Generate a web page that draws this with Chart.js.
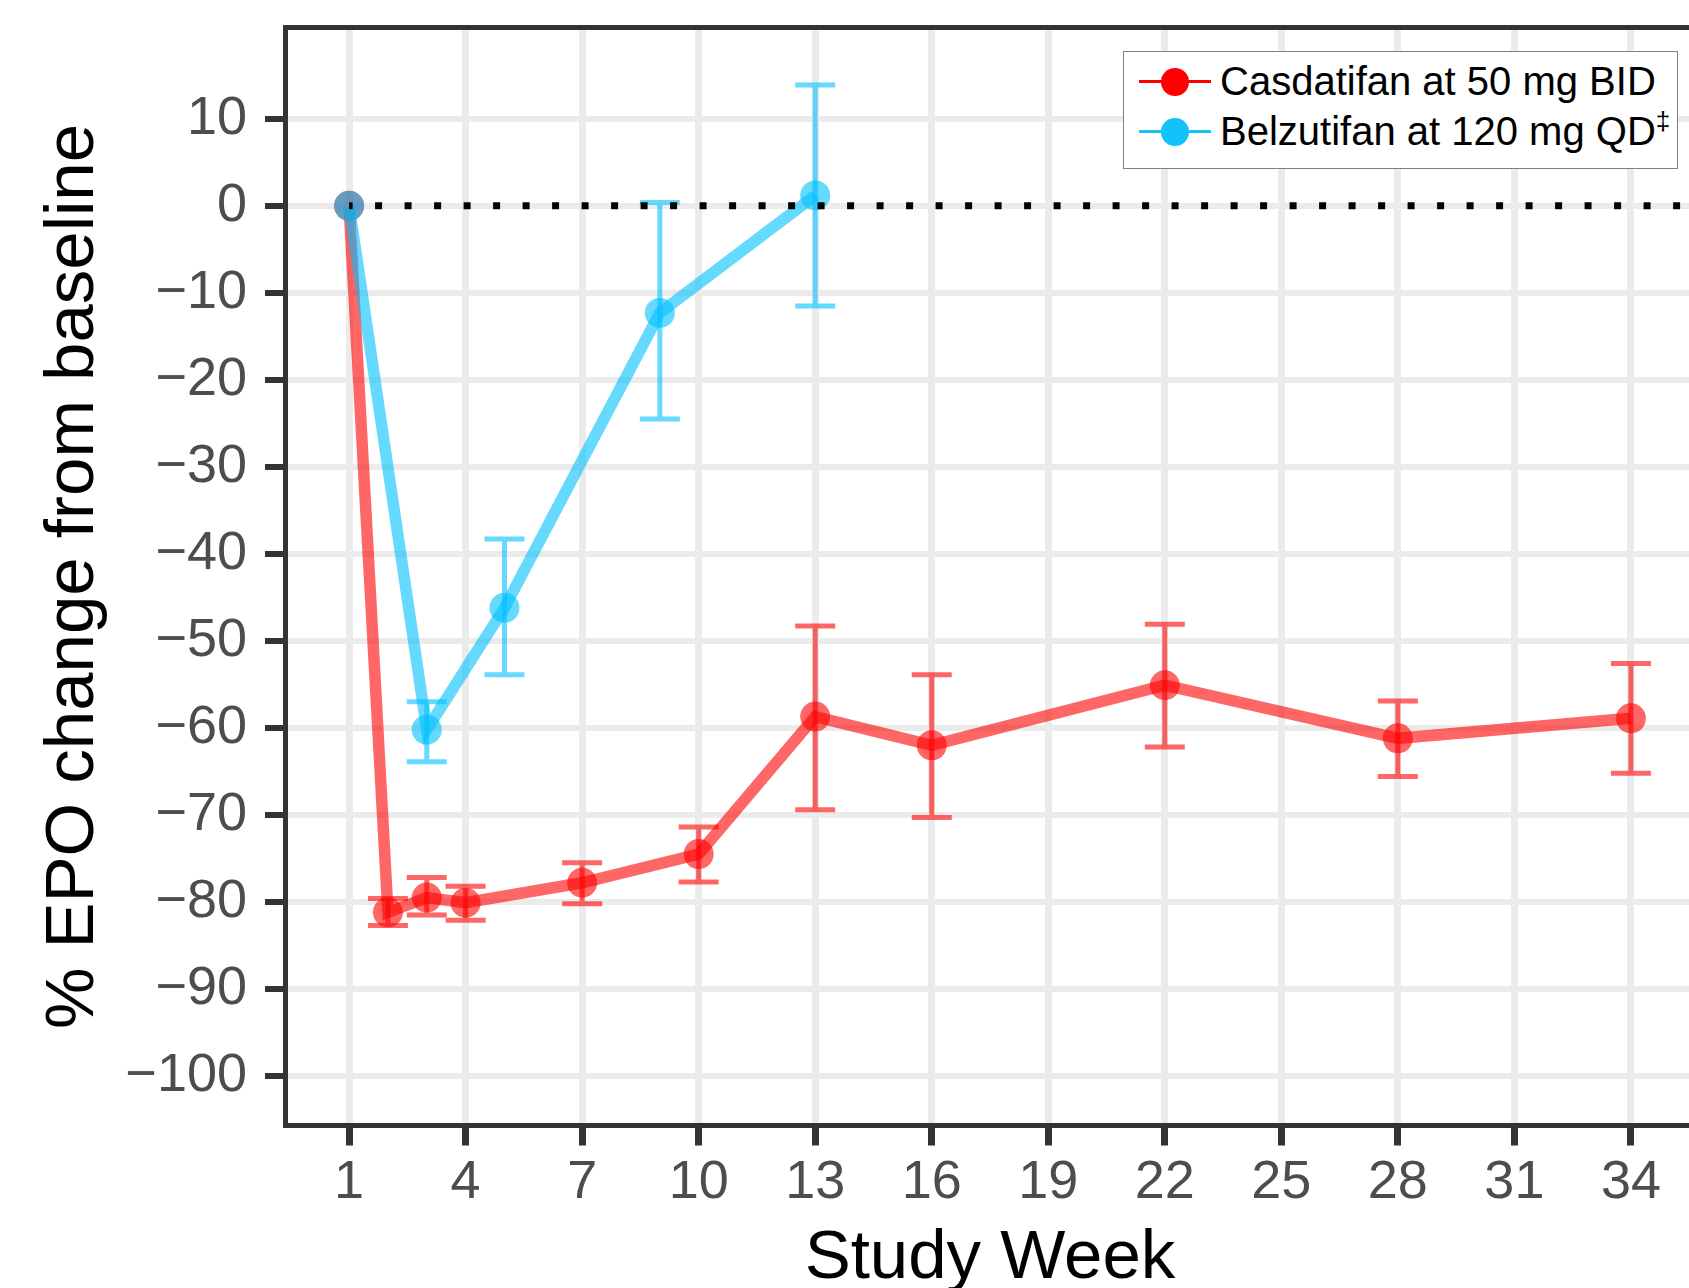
<!DOCTYPE html>
<html>
<head>
<meta charset="utf-8">
<script src="https://cdn.jsdelivr.net/npm/chart.js@4.4.0/dist/chart.umd.min.js"></script>
<style>
html, body { margin: 0; padding: 0; background: #fff; overflow: hidden; }
#wrap { position: relative; width: 1710px; height: 1320px; }
#epoChart { position: absolute; left: 0; top: 0; }
#legend {
    position: absolute; left: 1123px; top: 51px; width: 553px; height: 116px;
    border: 1.5px solid #808080; background: #fff;
    font-family: 'Liberation Sans', Arial, sans-serif; font-size: 40px; color: #000;
}
.row { position: absolute; left: 0; height: 50px; display: flex; align-items: center; white-space: nowrap; }
.key { position: relative; width: 72px; height: 3px; margin-left: 15px; margin-right: 9px; }
.key span { position: absolute; left: 22px; top: -12.5px; width: 28px; height: 28px; border-radius: 50%; }
.dd { font-size: 26px; position: relative; top: -10px; }
</style>
</head>
<body>
<div id="wrap">
    <canvas id="epoChart" width="1710" height="1320"></canvas>
    <div id="legend">
        <div class="row" style="top:4.5px"><div class="key" style="background:#ff0000"><span style="background:#ff0000"></span></div>Casdatifan at 50 mg BID</div>
        <div class="row" style="top:54.5px"><div class="key" style="background:#14c2fa"><span style="background:#14c2fa"></span></div>Belzutifan at 120 mg QD<span class="dd">‡</span></div>
    </div>
</div>
<script>
// casdatifan 50 mg BID
var casWeeks = [1, 2, 3, 4, 7, 10, 13, 16, 22, 28, 34];
var casMean  = [0, -81.2, -79.5, -80.1, -77.8, -74.5, -58.7, -62.0, -55.1, -61.2, -58.9];
var casLow   = [null, -82.7, -81.5, -82.1, -80.2, -77.7, -69.4, -70.3, -62.2, -65.6, -65.2];
var casHigh  = [null, -79.6, -77.2, -78.2, -75.5, -71.4, -48.3, -53.9, -48.1, -56.9, -52.6];

// belzutifan 120 mg QD
var belWeeks = [1, 3, 5, 9, 13];
var belMean  = [0, -60.2, -46.2, -12.3, 1.2];
var belLow   = [null, -63.9, -53.9, -24.5, -11.5];
var belHigh  = [null, -57.0, -38.3, 0.4, 13.9];

var xTicks = [1, 4, 7, 10, 13, 16, 19, 22, 25, 28, 31, 34];
var yTicks = [-100, -90, -80, -70, -60, -50, -40, -30, -20, -10, 0, 10];
var baseline = [{x: 1, y: 0}, {x: 36, y: 0}];

var redFade = 'rgba(255, 0, 0, 0.6)';
var blueFade = 'rgba(0, 191, 255, 0.6)';
var fontFam = "'Liberation Sans', Arial, sans-serif";

var toPoints = function(weeks, vals) {
    return weeks.map(function(w, i) { return {x: w, y: vals[i]}; });
};

var errorBars = {
    id: 'errorBars',
    beforeDatasetsDraw: function(chart) {
        var ctx = chart.ctx;
        var xs = chart.scales.x, ys = chart.scales.y;
        var sets = [[casWeeks, casLow, casHigh, redFade], [belWeeks, belLow, belHigh, blueFade]];
        ctx.save();
        ctx.lineWidth = 5;
        ctx.lineCap = 'butt';
        sets.forEach(function(s) {
            ctx.strokeStyle = s[3];
            s[0].forEach(function(w, i) {
                if (s[1][i] === null) { return; }
                var px = xs.getPixelForValue(w);
                var lo = ys.getPixelForValue(s[1][i]);
                var hi = ys.getPixelForValue(s[2][i]);
                ctx.beginPath();
                ctx.moveTo(px - 20, hi); ctx.lineTo(px + 20, hi);
                ctx.moveTo(px, hi); ctx.lineTo(px, lo);
                ctx.moveTo(px - 20, lo); ctx.lineTo(px + 20, lo);
                ctx.stroke();
            });
        });
        ctx.restore();
    }
};

var panelBorder = {
    id: 'panelBorder',
    afterDraw: function(chart) {
        var a = chart.chartArea;
        var ctx = chart.ctx;
        ctx.save();
        ctx.strokeStyle = '#333333';
        ctx.lineWidth = 5;
        ctx.strokeRect(a.left + 0.5, a.top, a.right - a.left, a.bottom - a.top);
        ctx.restore();
    }
};

var ctxE = document.getElementById('epoChart').getContext('2d');
var epoChart = new Chart(ctxE, {
    type: 'line',
    data: {
        datasets: [
            {
                data: baseline,
                borderColor: '#000000',
                borderWidth: 7,
                borderDash: [7, 22.5],
                borderDashOffset: 3.5,
                borderCapStyle: 'butt',
                pointRadius: 0,
                fill: false
            },
            {
                data: toPoints(belWeeks, belMean),
                borderColor: blueFade,
                backgroundColor: blueFade,
                borderWidth: 11.5,
                pointRadius: 15,
                pointBorderWidth: 0,
                pointBackgroundColor: blueFade,
                tension: 0,
                fill: false
            },
            {
                data: toPoints(casWeeks, casMean),
                borderColor: redFade,
                backgroundColor: redFade,
                borderWidth: 11.5,
                pointRadius: 15,
                pointBorderWidth: 0,
                pointBackgroundColor: redFade,
                tension: 0,
                fill: false
            }
        ]
    },
    options: {
        responsive: false,
        devicePixelRatio: 1,
        animation: false,
        events: [],
        layout: { padding: { top: 27.5, right: 5, bottom: 0, left: 0 } },
        plugins: {
            legend: { display: false },
            tooltip: { enabled: false }
        },
        scales: {
            x: {
                type: 'linear',
                min: -0.65,
                max: 35.65,
                bounds: 'data',
                afterBuildTicks: function(s) { s.ticks = xTicks.map(function(v) { return {value: v}; }); },
                afterFit: function(s) { s.height = 194.5; s.paddingLeft = 0; s.paddingRight = 0; },
                border: { display: false },
                grid: { color: '#EBEBEB', lineWidth: 7, tickColor: '#333333', tickWidth: 7, tickLength: 20 },
                ticks: { color: '#4D4D4D', padding: 5, maxRotation: 0, autoSkip: false, font: { family: fontFam, size: 54 } },
                title: { display: true, text: 'Study Week', color: '#000000', padding: { top: 0, bottom: 20 }, font: { family: fontFam, size: 69 } }
            },
            y: {
                min: -105.7,
                max: 20.5,
                bounds: 'data',
                afterBuildTicks: function(s) { s.ticks = yTicks.map(function(v) { return {value: v}; }); },
                afterFit: function(s) { s.width = 285; s.paddingTop = 0; s.paddingBottom = 0; },
                border: { display: false },
                grid: { color: '#EBEBEB', lineWidth: 6, tickColor: '#333333', tickWidth: 6, tickLength: 20 },
                ticks: {
                    color: '#4D4D4D', padding: 18, autoSkip: false,
                    font: { family: fontFam, size: 54 },
                    callback: function(v) { return v < 0 ? '\u2212' + Math.abs(v) : String(v); }
                },
                title: { display: true, text: '% EPO change from baseline', color: '#000000', padding: { top: 33, bottom: 0 }, font: { family: fontFam, size: 69 } }
            }
        }
    },
    plugins: [errorBars, panelBorder]
});
</script>
</body>
</html>
